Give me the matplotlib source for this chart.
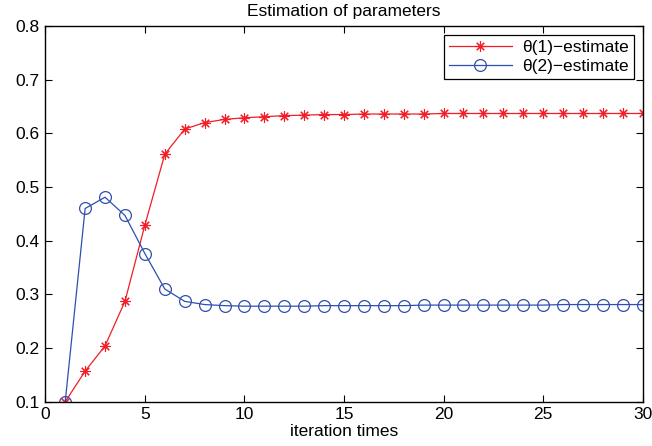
import matplotlib
matplotlib.use("Agg")
import matplotlib.pyplot as plt

iterations = list(range(1, 31))
theta1 = [0.100, 0.157, 0.204, 0.287, 0.429, 0.561, 0.608, 0.620, 0.626, 0.629,
          0.631, 0.633, 0.634, 0.635, 0.635, 0.636, 0.636, 0.636, 0.636, 0.637,
          0.637, 0.637, 0.637, 0.637, 0.637, 0.637, 0.637, 0.637, 0.637, 0.637]
theta2 = [0.100, 0.460, 0.481, 0.447, 0.376, 0.310, 0.287, 0.281, 0.279, 0.278,
          0.278, 0.278, 0.278, 0.279, 0.279, 0.279, 0.279, 0.279, 0.280, 0.280,
          0.280, 0.280, 0.280, 0.280, 0.280, 0.281, 0.281, 0.281, 0.281, 0.281]
series_labels = ["θ(1)−estimate", "θ(2)−estimate"]
x_ticks = [0, 5, 10, 15, 20, 25, 30]
y_ticks = [0.1, 0.2, 0.3, 0.4, 0.5, 0.6, 0.7, 0.8]

plt.rcParams["font.family"] = ["Liberation Sans", "DejaVu Sans"]

fig = plt.figure(figsize=(6.52, 4.46), dpi=100)
ax = fig.add_axes([0.0695, 0.0993, 0.9162, 0.8424])

red = "#f21d26"
blue = "#2f4fae"
ax.plot(iterations, theta1, color=red, lw=0.9, marker=(8, 2, 0), markersize=7.5,
        markerfacecolor=red, markeredgecolor=red, markeredgewidth=0.8,
        label=series_labels[0])
ax.plot(iterations, theta2, color=blue, lw=0.9, marker="o", markersize=8.5,
        markerfacecolor="none", markeredgecolor=blue, markeredgewidth=0.9,
        label=series_labels[1])

ax.set_xlim(0, 30)
ax.set_ylim(0.1, 0.8)
ax.set_xticks(x_ticks)
ax.set_yticks(y_ticks)
ax.set_xticklabels([str(t) for t in x_ticks])
ax.set_yticklabels([f"{t:.1f}" for t in y_ticks])
ax.tick_params(direction="in", top=True, right=True, length=5, width=0.8,
               labelsize=12.5, pad=4)
for s in ax.spines.values():
    s.set_linewidth(1.0)
    s.set_color("black")

ax.set_title("Estimation of parameters", fontsize=12.5, pad=7)
ax.set_xlabel("iteration times", fontsize=12.5, labelpad=1)

leg = ax.legend(loc="upper right", fontsize=12.5, frameon=True, fancybox=False,
                edgecolor="black", framealpha=1, borderaxespad=0.5,
                handlelength=3.6, handletextpad=0.6, borderpad=0.3,
                labelspacing=0.2)
leg.get_frame().set_linewidth(0.9)

fig.savefig("out.png", dpi=100)
